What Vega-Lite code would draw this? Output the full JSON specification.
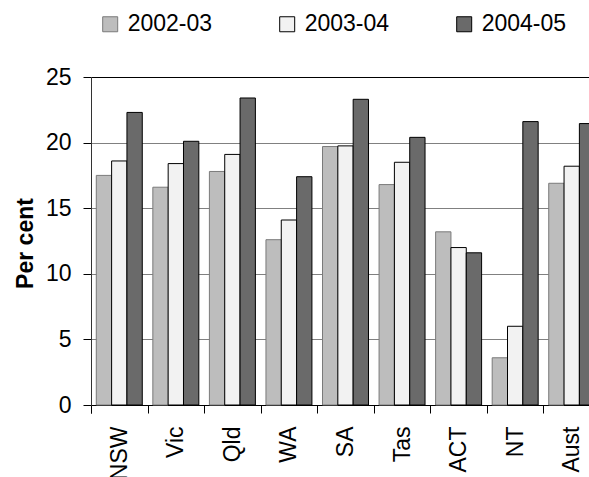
{
  "$schema": "https://vega.github.io/schema/vega-lite/v6.json",
  "autosize": "none",
  "width": 498,
  "height": 328,
  "padding": {"left": 91, "top": 77, "right": 0, "bottom": 72},
  "background": "white",
  "config": {
    "font": "Liberation Sans",
    "view": {"stroke": null}
  },
  "data": {
    "values": [
      {"state": "NSW", "year": "2002-03", "value": 17.5},
      {"state": "NSW", "year": "2003-04", "value": 18.6},
      {"state": "NSW", "year": "2004-05", "value": 22.3},
      {"state": "Vic", "year": "2002-03", "value": 16.6},
      {"state": "Vic", "year": "2003-04", "value": 18.4},
      {"state": "Vic", "year": "2004-05", "value": 20.1},
      {"state": "Qld", "year": "2002-03", "value": 17.8},
      {"state": "Qld", "year": "2003-04", "value": 19.1},
      {"state": "Qld", "year": "2004-05", "value": 23.4},
      {"state": "WA", "year": "2002-03", "value": 12.6},
      {"state": "WA", "year": "2003-04", "value": 14.1},
      {"state": "WA", "year": "2004-05", "value": 17.4},
      {"state": "SA", "year": "2002-03", "value": 19.7},
      {"state": "SA", "year": "2003-04", "value": 19.75},
      {"state": "SA", "year": "2004-05", "value": 23.3},
      {"state": "Tas", "year": "2002-03", "value": 16.8},
      {"state": "Tas", "year": "2003-04", "value": 18.5},
      {"state": "Tas", "year": "2004-05", "value": 20.4},
      {"state": "ACT", "year": "2002-03", "value": 13.2},
      {"state": "ACT", "year": "2003-04", "value": 12.0},
      {"state": "ACT", "year": "2004-05", "value": 11.6},
      {"state": "NT", "year": "2002-03", "value": 3.6},
      {"state": "NT", "year": "2003-04", "value": 6.0},
      {"state": "NT", "year": "2004-05", "value": 21.6},
      {"state": "Aust", "year": "2002-03", "value": 16.9},
      {"state": "Aust", "year": "2003-04", "value": 18.2},
      {"state": "Aust", "year": "2004-05", "value": 21.45}
    ]
  },
  "mark": {"type": "bar", "strokeWidth": 1},
  "encoding": {
    "x": {
      "field": "state",
      "type": "nominal",
      "sort": null,
      "scale": {"range": [0, 509], "paddingInner": 0.187, "paddingOuter": 0.0935},
      "axis": {
        "title": null,
        "labelAngle": -90,
        "labelFontSize": 23,
        "labelColor": "black",
        "labelPadding": 13,
        "bandPosition": 0,
        "tickExtra": true,
        "tickOffset": -5.3,
        "labelOffset": 5.3,
        "tickSize": 8,
        "tickColor": "black",
        "domainColor": "black",
        "grid": false
      }
    },
    "xOffset": {"field": "year", "type": "nominal", "sort": null},
    "y": {
      "field": "value",
      "type": "quantitative",
      "scale": {"domain": [0, 25], "nice": false},
      "axis": {
        "title": "Per cent",
        "titleFontSize": 23,
        "titleFontWeight": "bold",
        "titleColor": "black",
        "titleX": -59,
        "titleY": 166,
        "titleBaseline": "alphabetic",
        "values": [0, 5, 10, 15, 20, 25],
        "labelFontSize": 23,
        "labelColor": "black",
        "labelPadding": 12,
        "tickSize": 8,
        "tickColor": "black",
        "domainColor": "#333333",
        "grid": true,
        "gridColor": {"condition": {"test": "datum.value == 25", "value": "black"}, "value": "#808080"},
        "gridOpacity": 1
      }
    },
    "color": {
      "field": "year",
      "type": "nominal",
      "sort": null,
      "scale": {"domain": ["2002-03", "2003-04", "2004-05"], "range": ["#bdbdbd", "#f2f2f2", "#6a6a6a"]},
      "legend": {
        "title": null,
        "orient": "none",
        "direction": "horizontal",
        "legendX": 7.7,
        "legendY": -64.5,
        "symbolType": "square",
        "symbolSize": 225,
        "symbolStrokeWidth": 1,
        "symbolOpacity": 1,
        "labelFontSize": 23,
        "labelColor": "black",
        "labelOffset": 6,
        "columnPadding": 63,
        "padding": 0
      }
    },
    "stroke": {
      "field": "year",
      "type": "nominal",
      "sort": null,
      "scale": {"domain": ["2002-03", "2003-04", "2004-05"], "range": ["#7a7a7a", "black", "black"]},
      "legend": null
    }
  }
}
